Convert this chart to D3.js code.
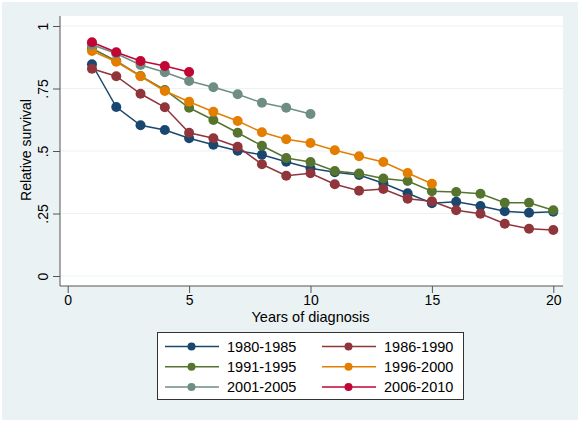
<!DOCTYPE html>
<html>
<head>
<meta charset="utf-8">
<script src="https://cdn.jsdelivr.net/npm/d3@7"></script>
<style>
  body { margin: 0; background: #fff; }
  text { font-family: "Liberation Sans", Arial, sans-serif; }
</style>
</head>
<body>
<div id="chart"></div>
<script>
const years = d3.range(1, 21);

const periods = ["1980-1985", "1986-1990", "1991-1995", "1996-2000", "2001-2005", "2006-2010"];
const colors = ["#1a476f", "#90353b", "#55752f", "#e37e00", "#6e8e84", "#c10534"];

const s1980 = [0.847, 0.676, 0.603, 0.584, 0.551, 0.525, 0.501, 0.485, 0.457, 0.431,
               0.415, 0.404, 0.371, 0.331, 0.291, 0.297, 0.280, 0.259, 0.253, 0.257];
const s1986 = [0.829, 0.799, 0.729, 0.675, 0.573, 0.551, 0.517, 0.447, 0.401, 0.411,
               0.367, 0.341, 0.348, 0.309, 0.299, 0.263, 0.249, 0.209, 0.189, 0.184];
const s1991 = [0.910, 0.860, 0.800, 0.744, 0.673, 0.624, 0.573, 0.521, 0.472, 0.456,
               0.420, 0.410, 0.390, 0.380, 0.339, 0.336, 0.329, 0.293, 0.293, 0.263];
const s1996 = [0.900, 0.857, 0.799, 0.740, 0.697, 0.657, 0.620, 0.575, 0.547, 0.532,
               0.503, 0.479, 0.456, 0.412, 0.369];
const s2001 = [0.925, 0.890, 0.844, 0.815, 0.780, 0.755, 0.727, 0.693, 0.673, 0.648];
const s2006 = [0.935, 0.895, 0.860, 0.840, 0.816];

const seriesValues = [s1980, s1986, s1991, s1996, s2001, s2006];

const xTicks = [0, 5, 10, 15, 20];
const yTicks = [0, 0.25, 0.5, 0.75, 1];
const yTickLabels = ["0", ".25", ".5", ".75", "1"];

const W = 580, H = 423;
const svg = d3.select("#chart").append("svg")
    .attr("width", W)
    .attr("height", H);

// outer graph region
svg.append("rect")
    .attr("x", 2).attr("y", 2)
    .attr("width", 576).attr("height", 418)
    .attr("fill", "#eaf2f3");

const plot = { left: 60, right: 563, top: 16, bottom: 286 };

svg.append("rect")
    .attr("x", plot.left).attr("y", plot.top)
    .attr("width", plot.right - plot.left)
    .attr("height", plot.bottom - plot.top)
    .attr("fill", "#ffffff");

const x = d3.scaleLinear().domain([0, 20]).range([67.7, 553.3]);
const y = d3.scaleLinear().domain([0, 1]).range([276, 26]);

// gridlines
svg.append("g")
    .selectAll("line")
    .data(yTicks)
    .join("line")
    .attr("x1", plot.left).attr("x2", plot.right)
    .attr("y1", d => y(d)).attr("y2", d => y(d))
    .attr("stroke", "#eaf2f3")
    .attr("stroke-width", 1.2);

// y axis
const yAxis = svg.append("g")
    .attr("transform", `translate(${plot.left},0)`)
    .call(d3.axisLeft(y).tickValues(yTicks).tickSize(7).tickFormat((d, i) => yTickLabels[i]));
yAxis.select(".domain").attr("d", `M0,${plot.top}V${plot.bottom}`).attr("stroke", "#555");
yAxis.selectAll(".tick line").attr("stroke", "#555");
yAxis.selectAll(".tick text")
    .attr("transform", "rotate(-90)")
    .attr("x", 0)
    .attr("y", -12.5)
    .attr("dy", 0)
    .attr("text-anchor", "middle")
    .style("font-size", "14px")
    .attr("fill", "#000");

// x axis
const xAxis = svg.append("g")
    .attr("transform", `translate(0,${plot.bottom})`)
    .call(d3.axisBottom(x).tickValues(xTicks).tickSize(7));
xAxis.select(".domain").attr("d", `M${plot.left},0H${plot.right}`).attr("stroke", "#555");
xAxis.selectAll(".tick line").attr("stroke", "#555");
xAxis.selectAll(".tick text")
    .attr("y", 9.5)
    .style("font-size", "14px")
    .attr("fill", "#000");

// axis titles
svg.append("text")
    .attr("transform", `translate(31,${(plot.top + plot.bottom) / 2 - 1}) rotate(-90)`)
    .attr("text-anchor", "middle")
    .style("font-size", "14px")
    .text("Relative survival");

svg.append("text")
    .attr("x", 310.5)
    .attr("y", 322)
    .attr("text-anchor", "middle")
    .style("font-size", "14.5px")
    .text("Years of diagnosis");

// lines and markers
const line = d3.line()
    .x((d, i) => x(years[i]))
    .y(d => y(d));

const series = svg.append("g")
    .selectAll("g")
    .data(seriesValues)
    .join("g");

series.append("path")
    .attr("d", d => line(d))
    .attr("fill", "none")
    .attr("stroke", (d, i) => colors[i])
    .attr("stroke-width", 1.5);

series.each(function (vals, si) {
    d3.select(this).selectAll("circle")
        .data(vals)
        .join("circle")
        .attr("cx", (d, i) => x(years[i]))
        .attr("cy", d => y(d))
        .attr("r", 5)
        .attr("fill", colors[si]);
});

// legend
const legend = svg.append("g");
legend.append("rect")
    .attr("x", 157.5).attr("y", 332.5)
    .attr("width", 306).attr("height", 67)
    .attr("fill", "#fff")
    .attr("stroke", "#333")
    .attr("stroke-width", 1);

const legendItems = legend.selectAll("g")
    .data(periods)
    .join("g")
    .attr("transform", (d, i) => `translate(${i % 2 === 0 ? 165 : 322},${346.5 + Math.floor(i / 2) * 20.3})`);

legendItems.append("line")
    .attr("x1", 0).attr("x2", 54)
    .attr("stroke", (d, i) => colors[i])
    .attr("stroke-width", 1.5);

legendItems.append("circle")
    .attr("cx", 26.5)
    .attr("r", 4)
    .attr("fill", (d, i) => colors[i]);

legendItems.append("text")
    .attr("x", 62)
    .attr("dy", "0.36em")
    .style("font-size", "14.5px")
    .text(d => d);
</script>
</body>
</html>
